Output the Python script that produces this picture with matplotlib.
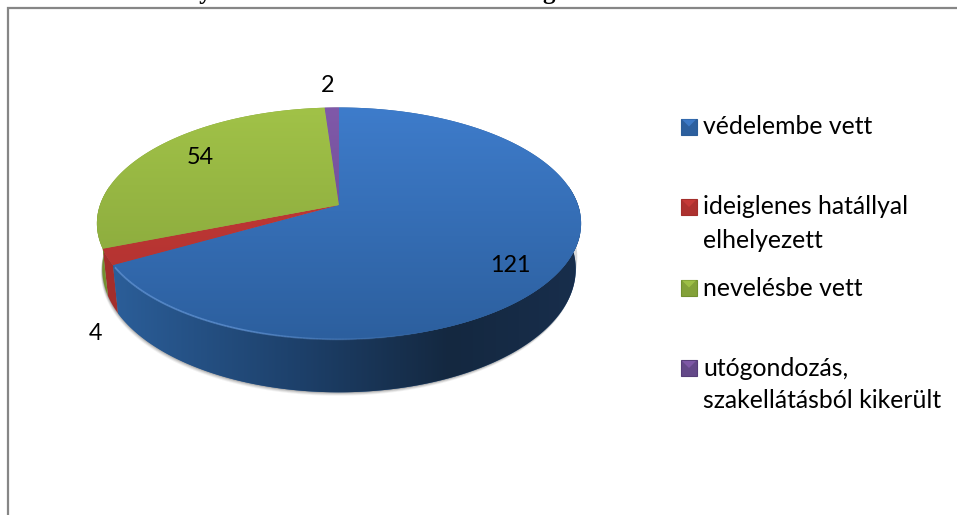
import numpy as np
import matplotlib
matplotlib.use('Agg')
import matplotlib.pyplot as plt
from matplotlib.colors import LinearSegmentedColormap
from matplotlib.patches import Polygon

# adatok
categories = ['védelembe vett', 'ideiglenes hatállyal\nelhelyezett', 'nevelésbe vett',
              'utógondozás,\nszakellátásból kikerült']
values = [121, 4, 54, 2]
title_text = '2. sz. táblázat: Gyermekvédelmi intézkedések megoszlása'

# szinek: teteje felul, teteje alul, oldal
top_hi = ['#3e7ccb', '#c83b38', '#a1c248', '#8059a9']
top_lo = ['#2c5f9e', '#ad312f', '#83a139', '#634888']
side_col = ['#2b5d99', '#a32e2b', '#72902f', '#553d78']

W, H = 957, 515
cx, cy = 339, 205
a, b, k = 239.0, 113.0, 0.159
TOP, BOTTOM = 107, 340


def project(theta):
    # kor pontjai perspektivaban, theta fentrol orajarasra
    u = np.sin(theta)
    v = -np.cos(theta)
    d = 1 - k * v
    return cx + a * u / d, cy + b * v / d, v


def drop(x, y, v):
    # also perem: kicsit befele es lefele
    d = 44.5 / (1 - k * v)
    return cx + (x - cx) * 0.978, y + d


fig = plt.figure(figsize=(W / 100, H / 100), dpi=100)
ax = fig.add_axes([0, 0, 1, 1])
ax.set_xlim(0, W)
ax.set_ylim(H, 0)
ax.axis('off')

# keret
ax.plot([7.5, 7.5, W], [H, 7.5, 7.5], color='#868686', lw=1.6, solid_joinstyle='miter', zorder=1)
ax.text(21, -0.5, title_text, family='Liberation Serif', fontweight='bold', fontsize=18,
        va='baseline', ha='left', color='black', zorder=0)

angles = np.cumsum([0] + values) / sum(values) * 2 * np.pi

# arnyek
th = np.linspace(np.pi * 0.45, np.pi * 1.55, 200)
sx, sy, sv = project(th)
bx, by = drop(sx, sy, sv)
for off, al in [(3.5, 0.08), (2.6, 0.12), (1.7, 0.16), (0.8, 0.25)]:
    ax.fill(bx - off * 0.4, by + off, color='#555555', alpha=al, lw=0, zorder=2)
ax.fill(bx + 1.5, by - 12, color='#555555', alpha=0.22, lw=0, zorder=2)

# oldalfal szinatmenet x szerint
side_x = [100, 300, 450, 520, 580]
side_c = ['#2c609c', '#1d406a', '#142840', '#162b46', '#182e4c']
side_map = LinearSegmentedColormap.from_list(
    'side', [((x - 100) / 480, c) for x, c in zip(side_x, side_c)])

for i in range(len(values)):
    ts = np.linspace(angles[i], angles[i + 1], max(8, values[i] * 6))
    ts = ts[-np.cos(ts) > -0.17]
    if len(ts) < 2:
        continue
    px, py, pv = project(ts)
    qx, qy = drop(px, py, pv)
    pts = list(zip(px, py)) + list(zip(qx[::-1], qy[::-1]))
    wall = Polygon(pts, closed=True, facecolor=side_col[i], edgecolor='none', zorder=3)
    ax.add_patch(wall)
    if i == 0:
        im = ax.imshow(np.linspace(0, 1, 256).reshape(1, -1), cmap=side_map, aspect='auto',
                       extent=(100, 580, 400, 100), zorder=3.5, interpolation='bilinear')
        im.set_clip_path(wall)

# teteje szinatmenettel
for i in range(len(values)):
    ts = np.linspace(angles[i], angles[i + 1], max(8, values[i] * 6))
    px, py, _ = project(ts)
    pts = [(cx, cy)] + list(zip(px, py))
    grad = LinearSegmentedColormap.from_list('g%d' % i, [top_hi[i], top_lo[i]])
    poly = Polygon(pts, closed=True, facecolor=top_lo[i], edgecolor='none', zorder=4)
    ax.add_patch(poly)
    im = ax.imshow(np.linspace(0, 1, 256).reshape(-1, 1), cmap=grad, aspect='auto',
                   extent=(0, W, BOTTOM, TOP), zorder=5, interpolation='bilinear')
    im.set_clip_path(poly)
ax.set_xlim(0, W)
ax.set_ylim(H, 0)

# fenyes perem elol
ts = np.linspace(angles[1] - 0.02, np.pi * 0.9, 120)
px, py, _ = project(ts)
for j in range(len(px) - 1):
    al = 0.6 * min(1, (len(px) - j) / 60)
    ax.plot(px[j:j + 2], py[j:j + 2], color='#6d9fe0', lw=1.3, alpha=al, zorder=6,
            solid_capstyle='butt')

# ertekek
label_xy = [(510, 265), (96, 333), (200, 157), (328, 85)]
for val, (lx, ly) in zip(values, label_xy):
    ax.text(lx, ly, str(val), family='Lato', fontsize=16.8, ha='center', va='center',
            color='black', zorder=7)

# jelmagyarazat
legend_y = [126.5, 207, 287.5, 368]
text_y = [127, 207, 288, 368]
for i, cat in enumerate(categories):
    y = legend_y[i]
    x0, x1, y0, y1 = 681, 697, y - 8, y + 8
    ax.add_patch(Polygon([(x0, y0), (x1, y0), (x1, y1), (x0, y1)], closed=True,
                         facecolor=top_lo[i], edgecolor=side_col[i], lw=0.8, zorder=7))
    ax.add_patch(Polygon([(x0 + 1, y0 + 1), (x1 - 1, y0 + 1), ((x0 + x1) / 2, y0 + 8)], closed=True,
                         facecolor=top_hi[i], edgecolor='none', alpha=0.9, zorder=8))
    lines = cat.split('\n')
    for j, line in enumerate(lines):
        ax.text(703, text_y[i] + j * 33, line, family='Lato', fontsize=17.8, ha='left',
                va='center', color='black', zorder=8)

fig.savefig('out.png', dpi=100)
